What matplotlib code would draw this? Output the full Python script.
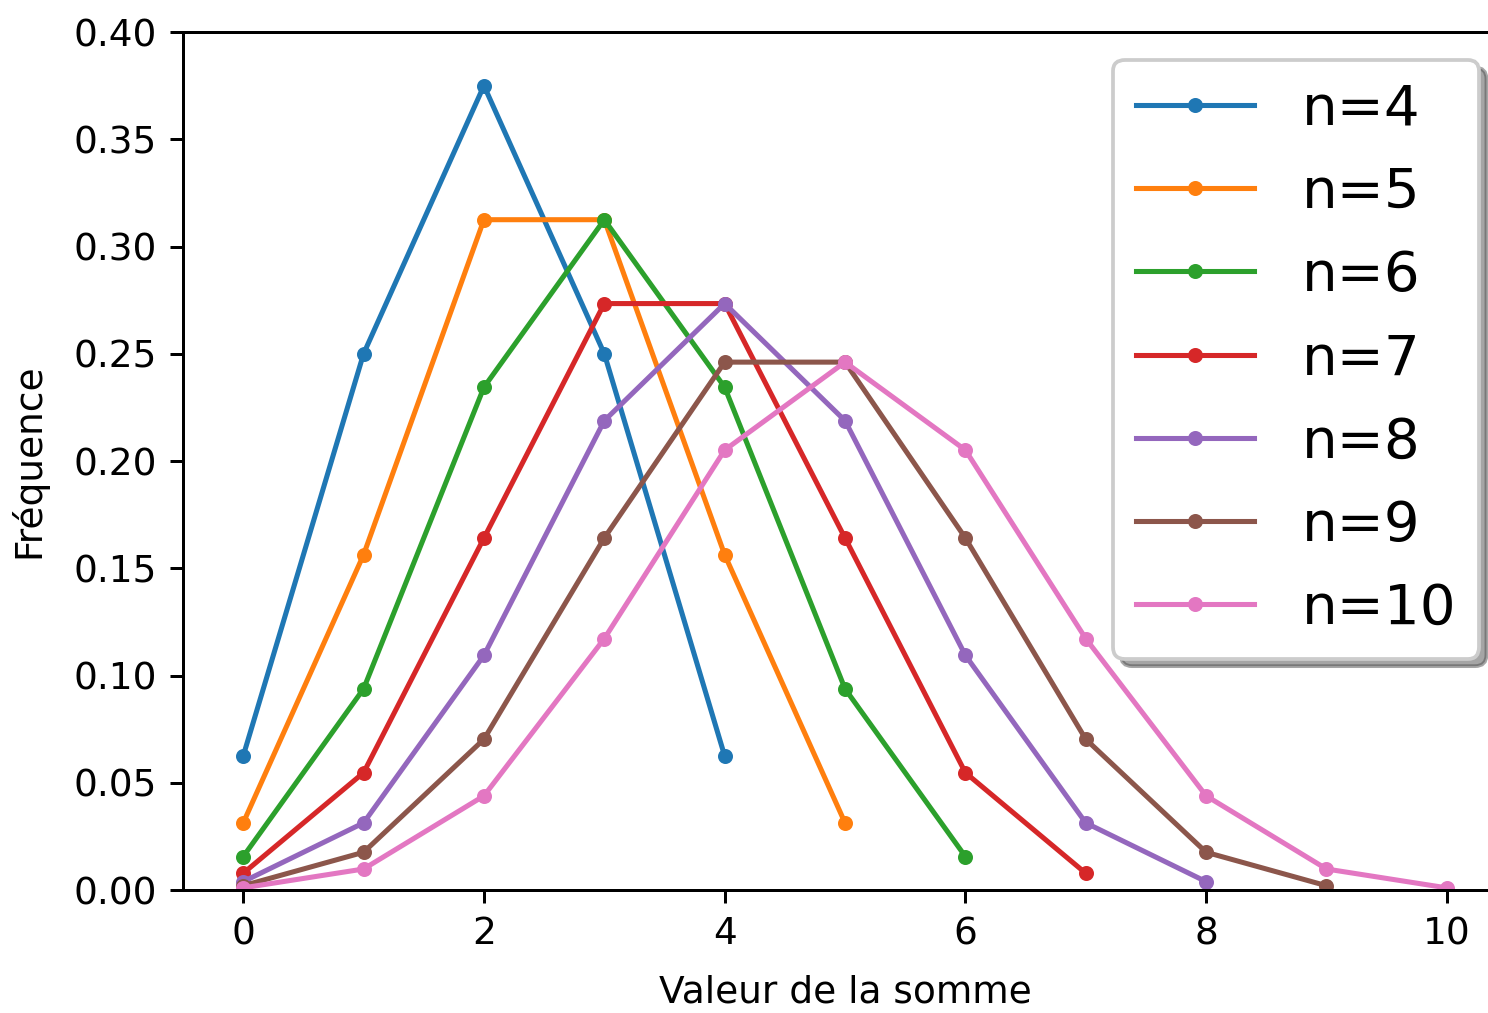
import matplotlib
matplotlib.use('Agg')
import matplotlib.pyplot as plt

# values (frequency of each sum, for each n)
freq_n4 = [0.0625, 0.25, 0.375, 0.25, 0.0625]
freq_n5 = [0.0313, 0.1563, 0.3125, 0.3125, 0.1563, 0.0313]
freq_n6 = [0.0156, 0.0938, 0.2344, 0.3125, 0.2344, 0.0938, 0.0156]
freq_n7 = [0.0078, 0.0547, 0.1641, 0.2734, 0.2734, 0.1641, 0.0547, 0.0078]
freq_n8 = [0.0039, 0.0313, 0.1094, 0.2188, 0.2734, 0.2188, 0.1094, 0.0313, 0.0039]
freq_n9 = [0.002, 0.0176, 0.0703, 0.1641, 0.2461, 0.2461, 0.1641, 0.0703, 0.0176, 0.002]
freq_n10 = [0.001, 0.0098, 0.0439, 0.1172, 0.2051, 0.2461, 0.2051, 0.1172, 0.0439, 0.0098, 0.001]

series = [freq_n4, freq_n5, freq_n6, freq_n7, freq_n8, freq_n9, freq_n10]
labels = ['n=4', 'n=5', 'n=6', 'n=7', 'n=8', 'n=9', 'n=10']

dpi = 270
fig = plt.figure(figsize=(1488 / dpi, 1013 / dpi), dpi=dpi)
ax = fig.add_axes([0.123, 0.1214, 0.8898, 0.847])

for freq, label in zip(series, labels):
    ax.plot(range(len(freq)), freq, marker='.', lw=1.35, label=label)

ax.set_ylim(0, 0.40)
ax.set_xlabel('Valeur de la somme', labelpad=6)
ax.set_ylabel('Fréquence', labelpad=7)
ax.legend(loc='upper right', fontsize=15, shadow=True,
          labelspacing=0.52, handlelength=2.1, handletextpad=0.85)

fig.savefig('out.png', dpi=dpi)
